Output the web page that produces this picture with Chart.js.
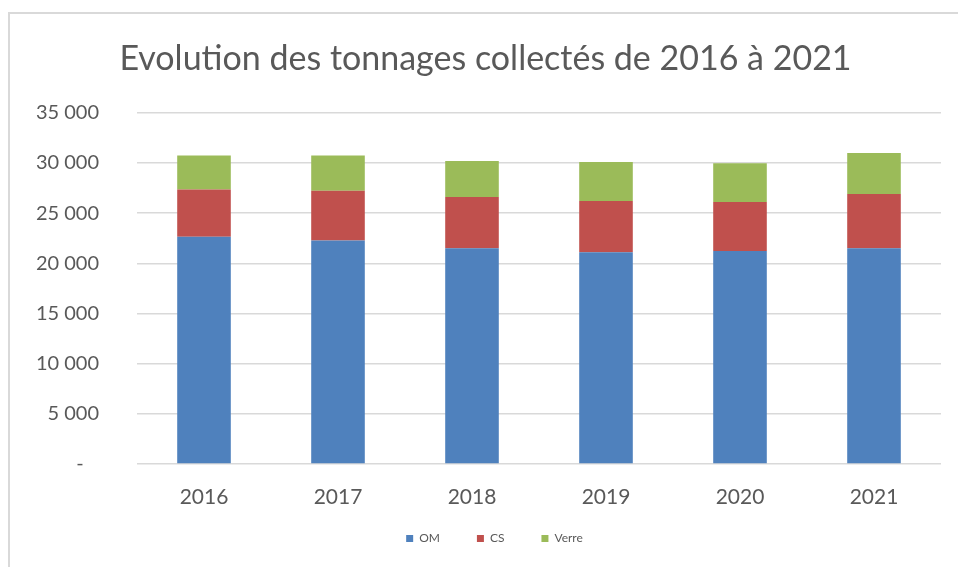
<!DOCTYPE html>
<html>
<head>
<meta charset="utf-8">
<script src="https://cdn.jsdelivr.net/npm/chart.js@4.4.0/dist/chart.umd.min.js"></script>
<style>
  html, body { margin: 0; padding: 0; background: #fff; overflow: hidden; }
  #frame { position: absolute; left: 8px; top: 12px; width: 1000px; height: 600px; border: 2px solid #d9d9d9; }
  #wrap { position: absolute; left: 0; top: 0; width: 958px; height: 567px; }
</style>
</head>
<body>
<div id="frame"></div>
<div id="wrap"><canvas id="chart" width="958" height="567"></canvas></div>
<script>
const years = ['2016', '2017', '2018', '2019', '2020', '2021'];
const om = [22650, 22270, 21500, 21100, 21230, 21500];
const cs = [4700, 4950, 5100, 5100, 4870, 5400];
const verre = [3400, 3530, 3600, 3900, 3870, 4100];
const yTicks = [0, 5000, 10000, 15000, 20000, 25000, 30000, 35000];

const fmt = (v) => v === 0 ? '-   ' : String(v).replace(/\B(?=(\d{3})+(?!\d))/g, ' ');

// legend sits a bit higher and more to the right than chart.js puts it
const nudgeLegend = {
  id: 'nudgeLegend',
  afterLayout(chart) {
    const lg = chart.legend;
    lg.left += 9; lg.right += 9;
    lg.top -= 12.5; lg.bottom -= 12.5;
  },
};

const ctx = document.getElementById('chart').getContext('2d');
new Chart(ctx, {
  type: 'bar',
  data: {
    labels: years,
    datasets: [
      { label: 'OM', data: om, backgroundColor: '#4f81bd' },
      { label: 'CS', data: cs, backgroundColor: '#c0504d' },
      { label: 'Verre', data: verre, backgroundColor: '#9bbb59' },
    ],
  },
  options: {
    responsive: false,
    animation: false,
    layout: { padding: { left: 30, right: 17, top: 0, bottom: 0 } },
    datasets: { bar: { barPercentage: 0.4, categoryPercentage: 1 } },
    plugins: {
      title: {
        display: true,
        text: 'Evolution des tonnages collectés de 2016 à 2021',
        color: '#595959',
        font: { family: 'Lato', size: 34, weight: 'normal' },
        padding: { top: 39, bottom: 33 },
      },
      legend: {
        position: 'bottom',
        labels: {
          color: '#595959',
          font: { family: 'Lato', size: 12 },
          boxWidth: 7,
          boxHeight: 7,
          padding: 37,
        },
      },
      tooltip: { enabled: false },
    },
    scales: {
      x: {
        stacked: true,
        grid: { display: false },
        border: { display: false },
        ticks: { color: '#595959', font: { family: 'Lato', size: 21 }, padding: 13 },
        afterFit: (scale) => { scale.height = 44; },
      },
      y: {
        stacked: true,
        min: 0,
        max: 35000,
        afterBuildTicks: (scale) => { scale.ticks = yTicks.map((v) => ({ value: v })); },
        grid: { color: '#d9d9d9', lineWidth: 1.5, drawTicks: false },
        border: { display: false },
        ticks: { color: '#595959', font: { family: 'Lato', size: 20 }, padding: 38, callback: fmt },
        afterFit: (scale) => { scale.width = 107; },
      },
    },
  },
  plugins: [nudgeLegend],
});
</script>
</body>
</html>
